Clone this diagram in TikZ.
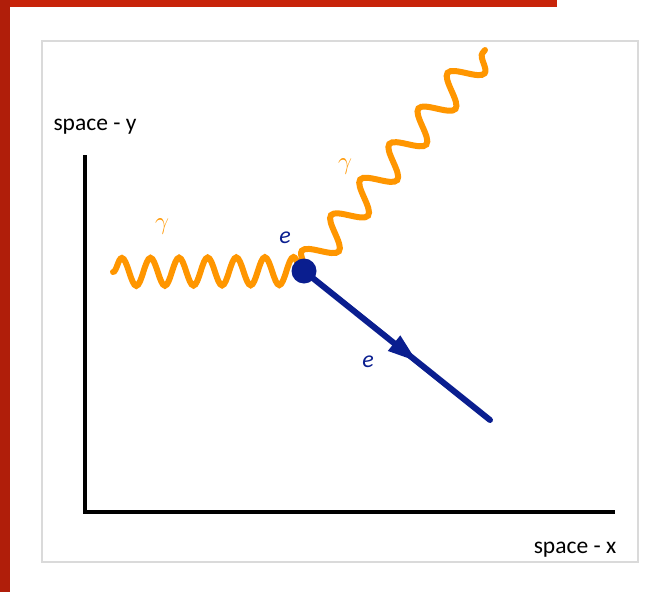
\documentclass[tikz,border=0pt]{standalone}
\usepackage{fontspec}
\setmainfont{Carlito}
\usetikzlibrary{decorations.pathmorphing,decorations.markings,arrows.meta}
\definecolor{phot}{RGB}{255,150,0}
\definecolor{elec}{RGB}{10,30,143}
\definecolor{redA}{RGB}{200,36,10}
\definecolor{redB}{RGB}{176,30,10}
\definecolor{frameg}{RGB}{218,218,218}
\tikzset{
  axisline/.style={line width=4pt, black, line join=miter},
  photon/.style={draw=phot, line width=6pt, line cap=round, decorate},
  electron/.style={draw=elec, line width=6pt, line cap=round,
    postaction={decorate},
    decoration={markings, mark=at position 0.61 with {\arrow[elec]{Triangle[length=30pt,width=18pt]}}}},
  dot/.style={circle, fill=elec, minimum size=25pt, inner sep=0pt},
  axlabel/.style={font=\fontsize{23.5}{28}\selectfont, text=black, anchor=base},
  gam/.style={font=\fontsize{24}{28}\selectfont, text=phot},
  elab/.style={font=\fontsize{24}{28}\selectfont\itshape, text=elec},
}
\begin{document}
\begin{tikzpicture}[x=1pt,y=-1pt]
\useasboundingbox (0,0) rectangle (664,592);
\fill[redA] (0,0) rectangle (557,7);
\fill[redB] (0,0) rectangle (10,592);
\draw[frameg, line width=1.8pt] (42,41) rectangle (638,562);
% axes
\coordinate (ytop) at (85,155);
\coordinate (orig) at (85,512);
\coordinate (xend) at (615,512);
\draw[axisline] (ytop) -- (orig) -- (xend);
\node[axlabel] (ylab) at (95,130) {space - y};
\node[axlabel] (xlab) at (575,553) {space - x};
% vertex
\coordinate (v) at (304,271);
\coordinate (pL) at (113,272);
\coordinate (pU) at (485,50);
\coordinate (eend) at (490,420);
\draw[photon, decoration={snake, amplitude=14pt, segment length=28.6pt}] (pL) -- (v);
\draw[photon, decoration={snake, amplitude=14.5pt, segment length=46pt}] (v) -- (pU);
\draw[electron] (v) -- (eend);
\node[dot] (e) at (v) {};
% labels
\node[gam] (g1) at (162,227) {$\gamma$};
\node[gam] (g2) at (345,167) {$\gamma$};
\node[elab] (e1) at (285,238) {e};
\node[elab] (e2) at (368,362) {e};
\end{tikzpicture}
\end{document}
